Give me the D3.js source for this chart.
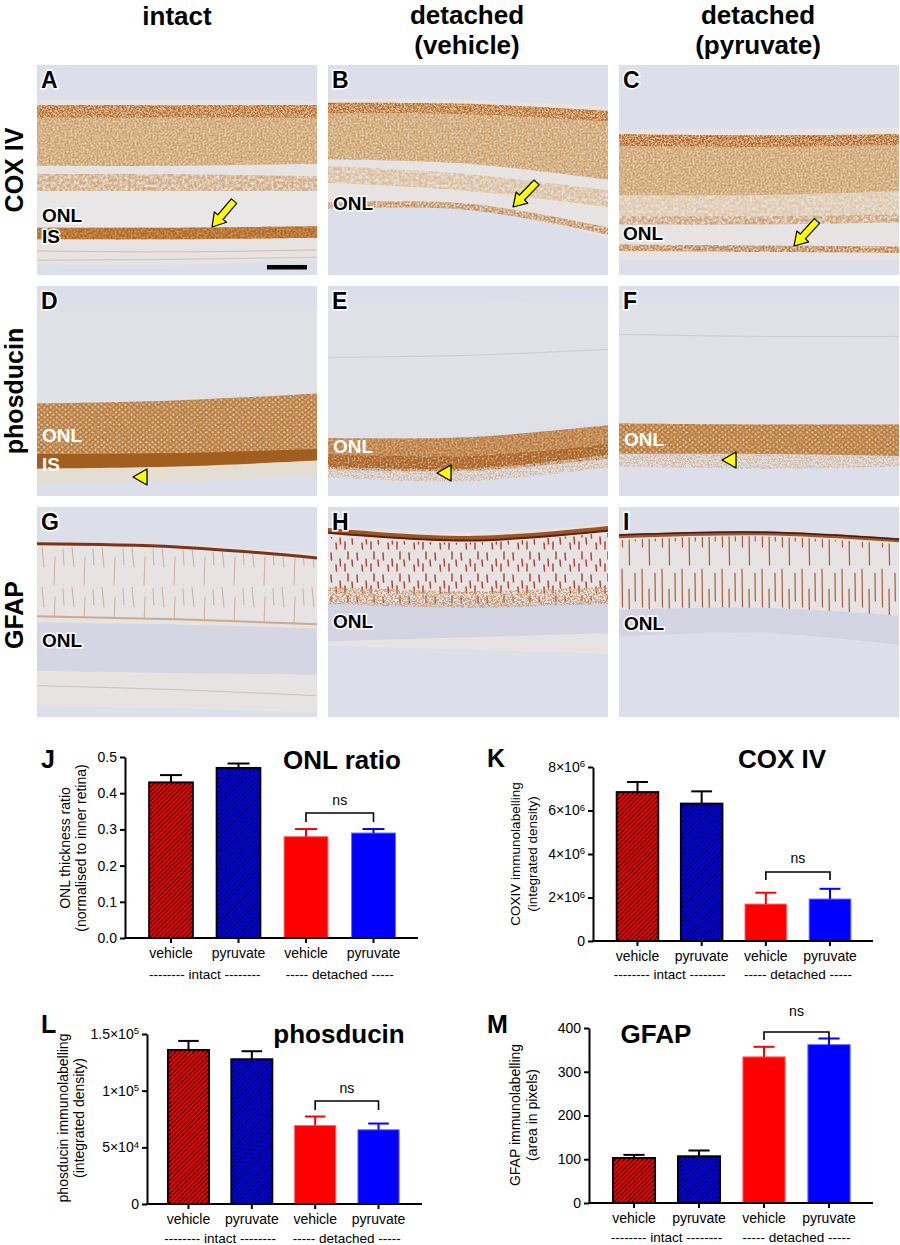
<!DOCTYPE html>
<html><head><meta charset="utf-8">
<script src="https://cdn.jsdelivr.net/npm/d3@7"></script>
<style>body{margin:0;background:#fff}svg{display:block;font-family:"Liberation Sans",Arial,sans-serif}</style>
</head><body>
<script>
// ---------------- data ----------------
const categories = ["vehicle","pyruvate","vehicle","pyruvate"];
const groupLabels = ["-------- intact --------","----- detached -----"];
const hatched = [true,true,false,false];
const barColors = ["#ff0000","#0000ff","#ff0000","#0000ff"];

const onlMean = [0.43,0.47,0.28,0.29];
const onlErr = [0.02,0.012,0.021,0.011];
const onlTicks = [0,0.1,0.2,0.3,0.4,0.5];
const onlTickLabels = [["0.0"],["0.1"],["0.2"],["0.3"],["0.4"],["0.5"]];

const coxMean = [6.85e6,6.32e6,1.70e6,1.93e6];
const coxErr = [0.46e6,0.56e6,0.52e6,0.47e6];
const coxTicks = [0,2e6,4e6,6e6,8e6];
const coxTickLabels = [["0"],["2×10","6"],["4×10","6"],["6×10","6"],["8×10","6"]];

const phosMean = [1.36e5,1.278e5,6.93e4,6.55e4];
const phosErr = [0.079e5,0.07e5,0.79e4,0.55e4];
const phosTicks = [0,5e4,1e5,1.5e5];
const phosTickLabels = [["0"],["5×10","4"],["1×10","5"],["1.5×10","5"]];

const gfapMean = [103,107,334,362];
const gfapErr = [7,13,23,14];
const gfapTicks = [0,100,200,300,400];
const gfapTickLabels = [["0"],["100"],["200"],["300"],["400"]];

const columnHeaders = [["intact"],["detached","(vehicle)"],["detached","(pyruvate)"]];
const rowHeaders = ["COX IV","phosducin","GFAP"];
const panelLetters = ["A","B","C","D","E","F","G","H","I"];

// ---------------- setup ----------------
const svg = d3.select("body").append("svg").attr("width",900).attr("height",1245);
const defs = svg.append("defs");

function hatch(id, base, stripe){
  const p = defs.append("pattern").attr("id",id).attr("patternUnits","userSpaceOnUse")
    .attr("width",3.2).attr("height",3.2).attr("patternTransform","rotate(45)");
  p.append("rect").attr("width",3.2).attr("height",3.2).attr("fill",base);
  p.append("rect").attr("width",1.3).attr("height",3.2).attr("fill",stripe);
}
hatch("hatchR","#ff0000","#3a0000");
hatch("hatchB","#0000ff","#000038");

function grainFilter(id, freq, k, b, seed){
  const f = defs.append("filter").attr("id",id).attr("x","-5%").attr("y","-5%").attr("width","110%").attr("height","110%");
  f.append("feTurbulence").attr("type","fractalNoise").attr("baseFrequency",freq).attr("numOctaves",3).attr("seed",seed).attr("result","n");
  f.append("feColorMatrix").attr("in","n").attr("type","matrix")
    .attr("values",`0 0 0 0 0  0 0 0 0 0  0 0 0 0 0  ${k} 0 0 0 ${b}`).attr("result","m");
  f.append("feComposite").attr("in","SourceGraphic").attr("in2","m").attr("operator","in");
}
grainFilter("grain",0.5,2.4,-0.6,4);
grainFilter("grainF",0.55,4.2,-1.7,7);
grainFilter("grainS",0.35,2.2,-0.5,11);

function fiberPattern(id,w,h,lines,color,sw){
  const p = defs.append("pattern").attr("id",id).attr("patternUnits","userSpaceOnUse").attr("width",w).attr("height",h);
  lines.forEach(l=>p.append("line").attr("x1",l[0]).attr("y1",l[1]).attr("x2",l[2]).attr("y2",l[3])
    .attr("stroke",color).attr("stroke-width",sw).attr("stroke-linecap","round"));
}
fiberPattern("fibH",26,22,[[3,2,3.5,9],[12,8,12.5,15],[20,1,20,8],[8,14,8.5,20],[17,13,17,20],[24,9,24.5,15]],"#a8483a",1.5);
fiberPattern("fibI",20,60,[[3,2,3.5,40],[10,22,10.5,58],[16,6,16.3,34]],"#a85a3a",1.2);
fiberPattern("fibG",30,40,[[5,0,7,20],[18,10,17,38],[26,2,27,18]],"#c8a088",0.8);
(function(){
  const p = defs.append("pattern").attr("id","dots").attr("patternUnits","userSpaceOnUse").attr("width",6).attr("height",5);
  p.append("circle").attr("cx",1.5).attr("cy",1.2).attr("r",1.2).attr("fill","#fff").attr("opacity",0.6);
  p.append("circle").attr("cx",4.5).attr("cy",3.7).attr("r",1.2).attr("fill","#fff").attr("opacity",0.6);
})();

// ---------------- headers ----------------
const colX=[37,328,619], rowY=[65,286,507], PW=280, PH=210;
const colCenters=[177,467,758];
columnHeaders.forEach((lines,i)=>{
  lines.forEach((t,j)=>svg.append("text").attr("x",colCenters[i]).attr("y",lines.length===1?25:24+30*j)
    .attr("text-anchor","middle").attr("font-size",26).attr("font-weight","bold").text(t));
});
const rowCenters=[170,391,615];
rowHeaders.forEach((t,i)=>svg.append("text").attr("transform",`translate(23,${rowCenters[i]}) rotate(-90)`)
  .attr("text-anchor","middle").attr("font-size",25).attr("font-weight","bold").text(t));

// ---------------- micrographs (illustrative) ----------------
function band(g,top,bot,fill,filter,op){
  const n=top.length;
  const pts=top.map((t,i)=>({x:-6+(PW+12)*i/(n-1),t:t*PH,b:bot[i]*PH}));
  g.append("path").attr("d",d3.area().x(d=>d.x).y0(d=>d.t).y1(d=>d.b).curve(d3.curveCatmullRom)(pts))
    .attr("fill",fill).attr("filter",filter?`url(#${filter})`:null).attr("opacity",op==null?1:op);
}
function lineBand(g,ys,w,color,op){
  const n=ys.length;
  const pts=ys.map((t,i)=>[-6+(PW+12)*i/(n-1),t*PH]);
  g.append("path").attr("d",d3.line().curve(d3.curveCatmullRom)(pts)).attr("fill","none")
    .attr("stroke",color).attr("stroke-width",w).attr("opacity",op==null?1:op);
}
const panels=[];
for(let i=0;i<9;i++){
  const c=i%3,r=Math.floor(i/3);
  const g=svg.append("g").attr("transform",`translate(${colX[c]},${rowY[r]})`);
  defs.append("clipPath").attr("id","clip"+i).append("rect").attr("width",PW).attr("height",PH);
  const inner=g.append("g").attr("clip-path",`url(#clip${i})`);
  inner.append("rect").attr("width",PW).attr("height",PH).attr("fill","#dcdfe9");
  panels.push({g,inner});
}
const pale="#e6e3e2", tanBase="#e4d2b8";
// A
(function(p){
  band(p,[0.165,0.165,0.17],[0.95,0.95,0.93],pale);
  band(p,[0.19,0.19,0.19],[0.48,0.48,0.47],tanBase);
  band(p,[0.19,0.19,0.19],[0.48,0.48,0.47],"#c8955a","grain",0.85);
  band(p,[0.19,0.19,0.19],[0.25,0.25,0.25],"#b86c30","grainF");
  band(p,[0.52,0.52,0.53],[0.6,0.6,0.6],"#d4a878","grainS");
  band(p,[0.6,0.6,0.6],[0.775,0.775,0.77],"#e9e6e8");
  band(p,[0.775,0.775,0.768],[0.83,0.83,0.822],"#d39a5c");
  band(p,[0.775,0.775,0.768],[0.83,0.83,0.822],"#ad6424","grain");
  lineBand(p,[0.885,0.89,0.88],1,"#c8aa98",0.7);
  lineBand(p,[0.93,0.925,0.915],1,"#c8aa98",0.6);
})(panels[0].inner);
// B
(function(p){
  band(p,[0.16,0.165,0.2],[0.68,0.68,0.83],pale);
  band(p,[0.18,0.185,0.22],[0.45,0.47,0.55],tanBase);
  band(p,[0.18,0.185,0.22],[0.45,0.47,0.55],"#c8955a","grain",0.85);
  band(p,[0.18,0.185,0.22],[0.23,0.235,0.27],"#b86c30","grainF");
  band(p,[0.48,0.52,0.6],[0.56,0.6,0.68],"#dcbc94","grainS");
  band(p,[0.655,0.66,0.78],[0.685,0.69,0.815],"#c68a50","grain");
})(panels[1].inner);
// C
(function(p){
  band(p,[0.31,0.305,0.3],[0.93,0.93,0.93],pale);
  band(p,[0.33,0.335,0.33],[0.62,0.62,0.6],tanBase);
  band(p,[0.33,0.335,0.33],[0.62,0.62,0.6],"#c8955a","grain",0.85);
  band(p,[0.33,0.335,0.33],[0.385,0.39,0.38],"#b46428","grainF");
  band(p,[0.62,0.62,0.6],[0.72,0.72,0.71],"#e0c6a4","grainS");
  band(p,[0.72,0.72,0.71],[0.76,0.76,0.75],"#d0a070","grainS");
  band(p,[0.855,0.86,0.865],[0.885,0.89,0.895],"#c07a3a","grain");
})(panels[2].inner);
// D
(function(p){
  band(p,[0.1,0.1,0.1],[0.56,0.55,0.52],"#e0e1e6",null,0.7);
  band(p,[0.56,0.545,0.51],[0.81,0.8,0.78],"#c48c50");
  band(p,[0.56,0.545,0.51],[0.81,0.8,0.78],"url(#dots)");
  band(p,[0.56,0.545,0.51],[0.81,0.8,0.78],"#a86a2c","grain",0.5);
  band(p,[0.8,0.795,0.775],[0.875,0.865,0.83],"#a25e1e");
  band(p,[0.87,0.86,0.83],[0.94,0.93,0.9],"#e4ddd2");
})(panels[3].inner);
// E
(function(p){
  band(p,[0.08,0.08,0.06],[0.72,0.71,0.63],"#e0e1e6",null,0.8);
  lineBand(p,[0.34,0.33,0.3],1,"#c8c4c4",0.8);
  band(p,[0.725,0.72,0.66],[0.86,0.87,0.8],"#d6b088");
  band(p,[0.725,0.72,0.66],[0.86,0.87,0.8],"#b8763a","grain");
  band(p,[0.8,0.81,0.75],[0.87,0.88,0.82],"#a86228","grain");
  band(p,[0.86,0.87,0.8],[0.91,0.93,0.86],"#d8b89a","grainF");
})(panels[4].inner);
// F
(function(p){
  band(p,[0.08,0.08,0.08],[0.66,0.66,0.66],"#e0e1e6",null,0.8);
  lineBand(p,[0.23,0.24,0.24],1,"#c8c4c4",0.8);
  band(p,[0.655,0.66,0.66],[0.8,0.8,0.81],"#c88e52");
  band(p,[0.655,0.66,0.66],[0.8,0.8,0.81],"url(#dots)");
  band(p,[0.655,0.66,0.66],[0.8,0.8,0.81],"#a86a2c","grain",0.6);
  band(p,[0.8,0.8,0.81],[0.86,0.87,0.86],"#d8b89a","grainF");
})(panels[5].inner);
// G
(function(p){
  band(p,[0.17,0.18,0.22],[0.95,0.96,0.98],pale);
  band(p,[0.19,0.2,0.25],[0.52,0.53,0.56],"url(#fibG)");
  band(p,[0.55,0.56,0.58],[0.78,0.79,0.8],"#d6d5e4");
  lineBand(p,[0.175,0.19,0.245],3,"#7a3418");
  lineBand(p,[0.52,0.535,0.56],2,"#c89a78",0.8);
  lineBand(p,[0.85,0.87,0.9],1,"#b8a8b0",0.6);
})(panels[6].inner);
// H
(function(p){
  band(p,[0.09,0.12,0.08],[0.66,0.68,0.7],pale);
  band(p,[0.14,0.17,0.12],[0.46,0.47,0.45],"url(#fibH)");
  band(p,[0.45,0.46,0.44],[0.64,0.62,0.6],"#d4d3e2");
  band(p,[0.38,0.4,0.38],[0.46,0.48,0.46],"#c89a70","grainF");
  lineBand(p,[0.11,0.15,0.1],5,"#9a5528");
  lineBand(p,[0.12,0.16,0.11],2,"#5a2210");
})(panels[7].inner);
// I
(function(p){
  band(p,[0.14,0.12,0.16],[0.62,0.6,0.66],pale);
  band(p,[0.16,0.14,0.18],[0.5,0.49,0.53],"url(#fibI)");
  band(p,[0.49,0.48,0.52],[0.62,0.6,0.66],"#d4d3e2");
  lineBand(p,[0.14,0.125,0.16],4,"#9a5528");
  lineBand(p,[0.135,0.12,0.155],1.5,"#4a1a10");
})(panels[8].inner);

// panel letters & annotations
panels.forEach((p,i)=>p.g.append("text").attr("x",4).attr("y",23).attr("font-size",23).attr("font-weight","bold")
  .attr("fill","#000").attr("stroke","#fff").attr("stroke-width",3).attr("paint-order","stroke").text(panelLetters[i]));
const layerLabels=[[0,"ONL",5,157,"b"],[0,"IS",5,178,"b"],[1,"ONL",5,145,"b"],[2,"ONL",4,175,"b"],
  [3,"ONL",5,156,"w"],[3,"IS",5,185,"w"],[4,"ONL",5,167,"w"],[5,"ONL",5,160,"w"],
  [6,"ONL",5,140,"b"],[7,"ONL",5,121,"b"],[8,"ONL",5,123,"b"]];
layerLabels.forEach(l=>{
  const t=panels[l[0]].g.append("text").attr("x",l[2]).attr("y",l[3]).attr("font-size",19).attr("font-weight","bold").text(l[1]);
  if(l[4]==="b") t.attr("fill","#000").attr("stroke","#fff").attr("stroke-width",3).attr("paint-order","stroke");
  else t.attr("fill","#fff");
});
// yellow arrows (tip, tail)
[[0,175,162,198,135],[1,185,142,208,118],[2,175,181,197,157]].forEach(a=>{
  const ang=Math.atan2(a[2]-a[4],a[1]-a[3])*180/Math.PI;
  panels[a[0]].g.append("path").attr("d","M0,0L-13,-8L-13,-3.5L-34,-3.5L-34,3.5L-13,3.5L-13,8Z")
    .attr("transform",`translate(${a[1]},${a[2]}) rotate(${ang})`)
    .attr("fill","#ffff00").attr("stroke","#000").attr("stroke-width",1.2).attr("stroke-linejoin","round");
});
// yellow arrowheads
[[3,96,191],[4,109,187],[5,103,174]].forEach(a=>{
  panels[a[0]].g.append("path").attr("d","M0,0L14,-8L14,8Z").attr("transform",`translate(${a[1]},${a[2]})`)
    .attr("fill","#ffff00").attr("stroke","#000").attr("stroke-width",1.3).attr("stroke-linejoin","round");
});
// scale bar
panels[0].g.append("rect").attr("x",230).attr("y",200).attr("width",40).attr("height",4.5).attr("fill","#000");

// ---------------- bar charts ----------------
function barChart(cfg){
  const g=svg.append("g");
  const y=d3.scaleLinear().domain(cfg.domain).range([cfg.y0,cfg.y1]);
  const x=d3.scaleBand().domain(d3.range(categories.length)).range(cfg.band).paddingInner(0.35).paddingOuter(0.175);
  const bw=x.bandwidth();
  g.selectAll("rect.bar").data(cfg.means).join("rect").attr("class","bar")
    .attr("x",(d,i)=>x(i)).attr("width",bw)
    .attr("y",d=>y(d)).attr("height",d=>y(0)-y(d))
    .attr("fill",(d,i)=>hatched[i]?(barColors[i]==="#ff0000"?"url(#hatchR)":"url(#hatchB)"):barColors[i])
    .attr("stroke",(d,i)=>hatched[i]?"#000":(barColors[i]==="#ff0000"?"#ff6a6a":"#6a6aff"))
    .attr("stroke-width",(d,i)=>hatched[i]?1.8:1);
  cfg.means.forEach((m,i)=>{
    const col=hatched[i]?"#000":barColors[i], cx=x(i)+bw/2;
    g.append("line").attr("x1",cx).attr("x2",cx).attr("y1",y(m)).attr("y2",y(m+cfg.errs[i])).attr("stroke",col).attr("stroke-width",2);
    g.append("line").attr("x1",cx-bw/4).attr("x2",cx+bw/4).attr("y1",y(m+cfg.errs[i])).attr("y2",y(m+cfg.errs[i])).attr("stroke",col).attr("stroke-width",2);
  });
  const ya=g.append("g").attr("transform",`translate(${cfg.axisX},0)`)
    .call(d3.axisLeft(y).tickValues(cfg.ticks).tickSize(5).tickSizeOuter(0).tickPadding(3));
  ya.select(".domain").attr("stroke-width",2);
  ya.selectAll(".tick line").attr("stroke-width",2);
  ya.selectAll(".tick text").attr("font-size",14).attr("font-family","'Liberation Sans',Arial,sans-serif").each(function(d,i){
    const t=d3.select(this), lab=cfg.tickLabels[i]; t.text(null);
    t.append("tspan").text(lab[0]);
    if(lab[1]) t.append("tspan").attr("dy","-0.5em").attr("font-size","0.68em").text(lab[1]);
  });
  const xa=g.append("g").attr("transform",`translate(0,${y(0)})`)
    .call(d3.axisBottom(x).tickSize(5).tickPadding(5).tickFormat(i=>categories[i]));
  xa.select(".domain").remove();
  xa.selectAll(".tick line").attr("stroke-width",2);
  xa.selectAll(".tick text").attr("font-size",14).attr("font-family","'Liberation Sans',Arial,sans-serif");
  g.append("line").attr("x1",cfg.axisX-1).attr("x2",cfg.xEnd).attr("y1",y(0)).attr("y2",y(0)).attr("stroke","#000").attr("stroke-width",2);
  [[0,1],[2,3]].forEach((pair,k)=>{
    const cx=(x(pair[0])+x(pair[1])+bw)/2;
    g.append("text").attr("x",cx).attr("y",cfg.groupY).attr("text-anchor","middle").attr("font-size",13.5).text(groupLabels[k]);
  });
  cfg.ylab.forEach((t,k)=>g.append("text").attr("transform",`translate(${cfg.ylabX[k]},${cfg.ylabY}) rotate(-90)`)
    .attr("text-anchor","middle").attr("font-size",cfg.ylabSize).text(t));
  g.append("text").attr("x",cfg.titlePos[0]).attr("y",cfg.titlePos[1]).attr("text-anchor","middle")
    .attr("font-size",26).attr("font-weight","bold").text(cfg.title);
  g.append("text").attr("x",cfg.letterPos[0]).attr("y",cfg.letterPos[1]).attr("font-size",25).attr("font-weight","bold").text(cfg.letter);
  const c1=x(2)+bw/2, c2=x(3)+bw/2;
  g.append("path").attr("d",`M${c1},${cfg.ns[0]+cfg.ns[1]}V${cfg.ns[0]}H${c2}V${cfg.ns[0]+cfg.ns[1]}`)
    .attr("fill","none").attr("stroke","#000").attr("stroke-width",1.6);
  g.append("text").attr("x",(c1+c2)/2).attr("y",cfg.ns[2]).attr("text-anchor","middle").attr("font-size",14).text("ns");
}

barChart({letter:"J",title:"ONL ratio",means:onlMean,errs:onlErr,domain:[0,0.5],ticks:onlTicks,tickLabels:onlTickLabels,
  y0:938,y1:757,axisX:125,xEnd:418,band:[137.25,407.25],groupY:979,
  ylab:["ONL thickness ratio","(normalised to inner retina)"],ylabX:[70,86],ylabY:848,ylabSize:14,
  titlePos:[342,769],letterPos:[41,768],ns:[813,9,805]});
barChart({letter:"K",title:"COX IV",means:coxMean,errs:coxErr,domain:[0,8e6],ticks:coxTicks,tickLabels:coxTickLabels,
  y0:941,y1:767,axisX:593,xEnd:873,band:[605.4,862.1],groupY:979,
  ylab:["COXIV immunolabelling","(integrated density)"],ylabX:[520,537],ylabY:854,ylabSize:13.5,
  titlePos:[782,768],letterPos:[487,767],ns:[872,8,863]});
barChart({letter:"L",title:"phosducin",means:phosMean,errs:phosErr,domain:[0,1.5e5],ticks:phosTicks,tickLabels:phosTickLabels,
  y0:1204,y1:1034,axisX:147,xEnd:422,band:[156.8,410.2],groupY:1243,
  ylab:["phosducin immunolabelling","(integrated density)"],ylabX:[68,84],ylabY:1118,ylabSize:14,
  titlePos:[339,1043],letterPos:[41,1033],ns:[1101,9,1093]});
barChart({letter:"M",title:"GFAP",means:gfapMean,errs:gfapErr,domain:[0,400],ticks:gfapTicks,tickLabels:gfapTickLabels,
  y0:1203,y1:1028,axisX:589,xEnd:873,band:[601.5,861.5],groupY:1242,
  ylab:["GFAP immunolabelling","(area in pixels)"],ylabX:[520,537],ylabY:1115,ylabSize:14,
  titlePos:[656,1043],letterPos:[487,1033],ns:[1032,8,1016]});
</script>
</body></html>
